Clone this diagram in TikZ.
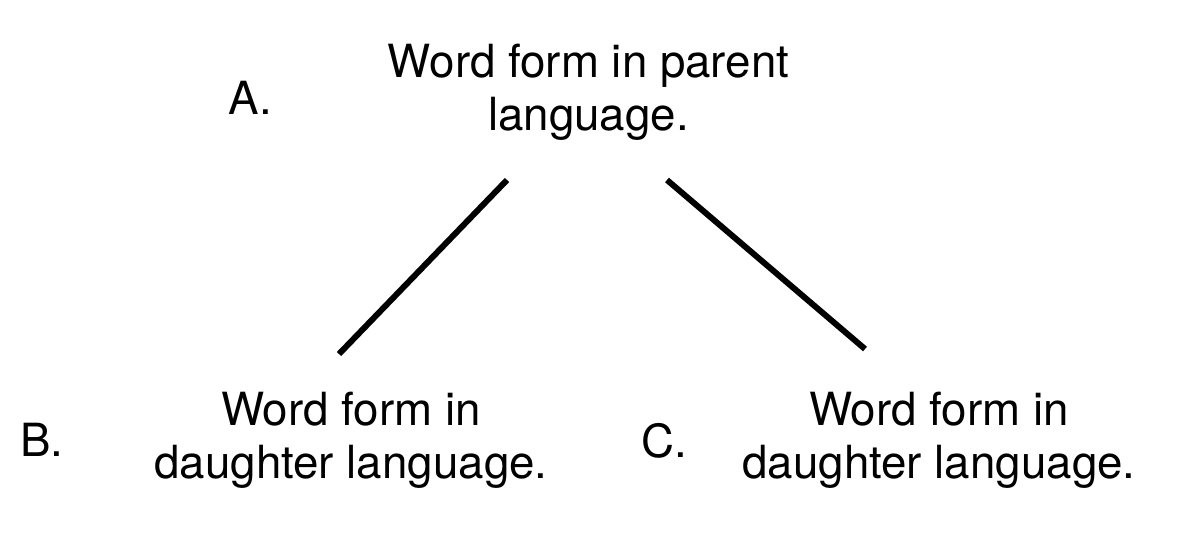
\documentclass[tikz,border=0pt]{standalone}
\usepackage{fontspec}
\setmainfont{TeX Gyre Heros}
\begin{document}
\begin{tikzpicture}[every node/.style={font=\fontsize{26}{30}\selectfont, align=center, inner sep=0pt}]
\useasboundingbox (0,0) rectangle (23.94,10.94);
\node (LA) at (5.0,8.98) {A.};
\node (P) at (11.77,9.10) {Word form in parent\\language.};
\node (LB) at (0.84,2.14) {B.};
\node (D1) at (7.02,2.14) {Word form in\\daughter language.};
\node (LC) at (13.28,2.12) {C.};
\node (D2) at (18.78,2.14) {Word form in\\daughter language.};
\coordinate (P1) at (10.14,7.34);
\coordinate (P2) at (13.34,7.34);
\coordinate (D1t) at (6.78,3.86);
\coordinate (D2t) at (17.30,3.96);
\path[line width=3.4pt]
  (P1) edge (D1t)
  (P2) edge (D2t)
;
\end{tikzpicture}
\end{document}
